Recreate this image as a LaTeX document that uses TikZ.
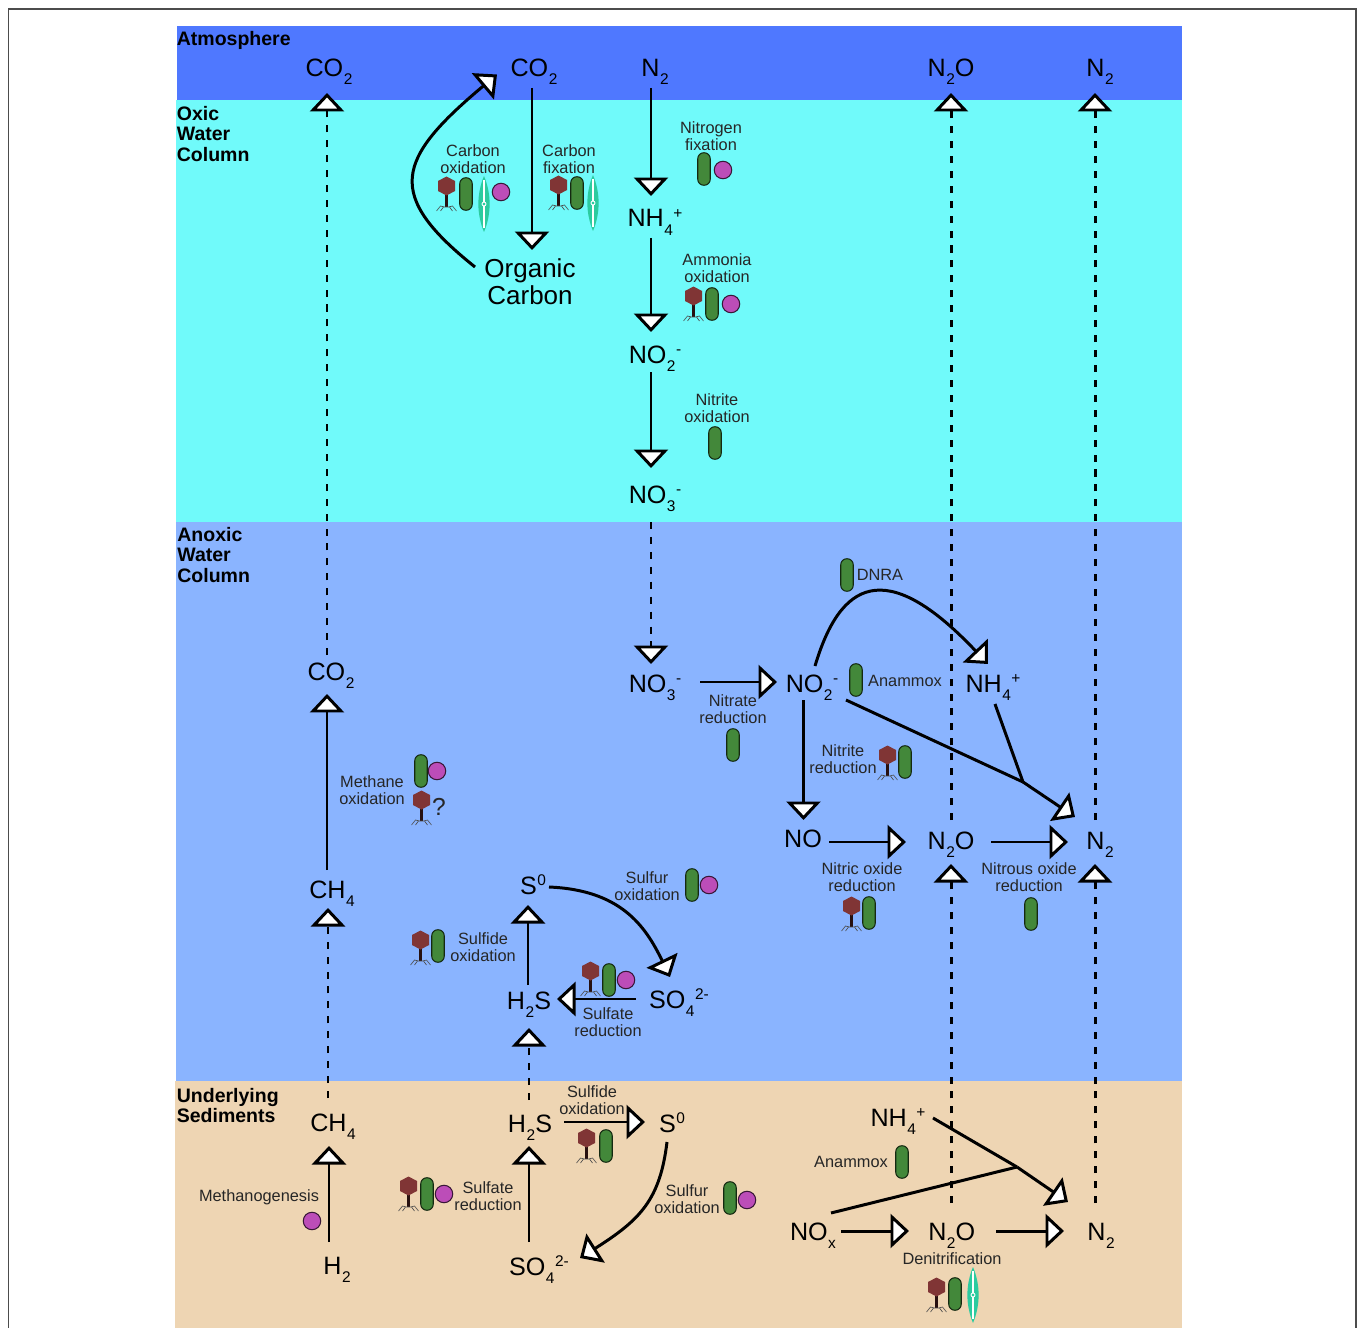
\documentclass[tikz,border=0pt]{standalone}
\usepackage{fontspec}
\setmainfont{Liberation Sans}
\usetikzlibrary{arrows.meta}
\definecolor{Air}{HTML}{4F78FF}
\definecolor{Oxic}{HTML}{70FAFA}
\definecolor{Anoxic}{HTML}{8AB4FF}
\definecolor{Sediment}{HTML}{EED5B3}
\definecolor{Phage}{HTML}{803535}
\definecolor{Bact}{HTML}{43883A}
\definecolor{Arch}{HTML}{BC4DB8}
\definecolor{Diatom}{HTML}{2CCB9F}
\newcommand{\subs}[1]{\raisebox{-4.6pt}{\fontsize{8.8}{9}\selectfont\kern0.3pt#1}}
\newcommand{\sups}[1]{\raisebox{5pt}{\fontsize{8.8}{9}\selectfont\kern0.3pt#1}}

\begin{document}
\begin{tikzpicture}[
  x=0.02cm,y=-0.02cm,
  spec/.style={anchor=base,inner sep=0pt,font=\fontsize{14.3}{15.3}\selectfont,align=center},
  proc/.style={inner sep=0pt,font=\fontsize{9.3}{9.6}\selectfont,align=center,text=black!85},
  zone/.style={anchor=west,inner sep=0pt,font=\fontsize{11.1}{11.6}\selectfont\bfseries,align=left},
  flow/.style={draw=black,line width=1.7pt,-{Triangle[length=0.37cm,width=0.68cm,fill=white]}},
  fluxdash/.style={flow,dash pattern=on 4pt off 4.5pt},
  plain/.style={draw=black,line width=1.7pt},
  bact/.style={rectangle,rounded corners=0.12cm,draw=black!70!Bact,fill=Bact,line width=0.6pt,minimum width=0.25cm,minimum height=0.65cm,inner sep=0pt},
  arch/.style={circle,draw=black!70!Arch,fill=Arch,line width=0.6pt,minimum size=0.35cm,inner sep=0pt},
  phage/.pic={
    \draw[black!70!Phage,line width=1.4pt] (0,9) -- (0,21);
    \draw[black!70,line width=0.35pt] (-10,25) -- (-6,20) -- (-2,21) -- (2,21) -- (6,20) -- (10,25);
    \draw[black!70,line width=0.35pt] (-6,25) -- (-3,21) (6,25) -- (3,21);
    \fill[Phage] (0,-9.5) -- (8.5,-5) -- (8.5,5) -- (0,9.5) -- (-8.5,5) -- (-8.5,-5) -- cycle;
  },
  diatom/.pic={
    \fill[Diatom] (0,-28) .. controls (7.5,-10) and (7.5,10) .. (0,28) .. controls (-7.5,10) and (-7.5,-10) .. cycle;
    \draw[white,line width=0.6pt] (0,-24) -- (0,24);
    \draw[white,fill=Diatom,line width=0.5pt] (0,0) circle (2);
  }
]
\useasboundingbox (0,0) rectangle (1357,1328);
% frame and water layers
\draw[black!70,line width=0.6pt] (8.5,1328) -- (8.5,9) -- (1356,9) -- (1356,1328);
\fill[Air] (176.5,26) rectangle (1182,100);
\fill[Oxic] (176,100) rectangle (1182,522);
\fill[Anoxic] (175.5,522) rectangle (1182,1081);
\fill[Sediment] (175,1081) rectangle (1182,1328);
\node[zone] (zoneair) at (176.5,40) {Atmosphere};
\node[zone] (zoneoxic) at (176.5,134) {Oxic\\Water\\Column};
\node[zone] (zoneanoxic) at (177,555) {Anoxic\\Water\\Column};
\node[zone] (zonesed) at (176.5,1105.5) {Underlying\\Sediments};

% species
\node[spec] (co2top) at (329,76.5) {CO\subs{2}};
\node[spec] (co2air) at (534,76.5) {CO\subs{2}};
\node[spec] (n2air) at (655,76.5) {N\subs{2}};
\node[spec] (n2oair) at (951,76.5) {N\subs{2}O};
\node[spec] (n2top) at (1100,76.5) {N\subs{2}};
\node[spec,anchor=center,font=\fontsize{14.8}{15.3}\selectfont] (orgcarbon) at (530,282) {Organic\\Carbon};
\node[spec] (nh4ox) at (655,227) {NH\subs{4}\sups{+}};
\node[spec] (no2ox) at (655,363.5) {NO\subs{2}\sups{-}};
\node[spec] (no3ox) at (655,503.5) {NO\subs{3}\sups{-}};
\node[spec] (no3an) at (655,692) {NO\subs{3}\sups{-}};
\node[spec] (no2an) at (812,692) {NO\subs{2}\sups{-}};
\node[spec] (nh4an) at (993,692) {NH\subs{4}\sups{+}};
\node[spec] (co2an) at (331,680) {CO\subs{2}};
\node[spec] (ch4an) at (332,898) {CH\subs{4}};
\node[spec] (nogas) at (803,847.5) {NO};
\node[spec] (n2oan) at (951,849) {N\subs{2}O};
\node[spec] (n2an) at (1100,849) {N\subs{2}};
\node[spec] (s0an) at (533,894.5) {S\sups{0}};
\node[spec] (h2san) at (529,1009.5) {H\subs{2}S};
\node[spec] (so4an) at (679,1008) {SO\subs{4}\sups{2-}};
\node[spec] (ch4sed) at (333,1131.5) {CH\subs{4}};
\node[spec] (h2sed) at (337,1274.5) {H\subs{2}};
\node[spec] (h2ssed) at (530,1132.5) {H\subs{2}S};
\node[spec] (s0sed) at (672,1132.5) {S\sups{0}};
\node[spec] (so4sed) at (539,1275) {SO\subs{4}\sups{2-}};
\node[spec] (nh4sed) at (898,1126.5) {NH\subs{4}\sups{+}};
\node[spec] (noxsed) at (813,1240) {NO\subs{x}};
\node[spec] (n2osed) at (951.7,1240) {N\subs{2}O};
\node[spec] (n2sed) at (1101,1240) {N\subs{2}};
\coordinate (janox) at (1023,782);
\coordinate (jansed) at (1017,1167);

% processes
\node[proc] (pcox) at (473,159) {Carbon\\oxidation};
\node[proc] (pcfix) at (569,159) {Carbon\\fixation};
\node[proc] (pnfix) at (711,136) {Nitrogen\\fixation};
\node[proc] (pamox) at (717,268) {Ammonia\\oxidation};
\node[proc] (pnox) at (717,408) {Nitrite\\oxidation};
\node[proc] (pnar) at (733,709) {Nitrate\\reduction};
\node[proc] (pdnra) at (880,575) {DNRA};
\node[proc] (panxa) at (905,681) {Anammox};
\node[proc] (pnir) at (843,759) {Nitrite\\reduction};
\node[proc] (pnor) at (862,877) {Nitric oxide\\reduction};
\node[proc] (pnos) at (1029,877) {Nitrous oxide\\reduction};
\node[proc] (pmox) at (372,790) {Methane\\oxidation};
\node[proc,font=\fontsize{14}{15}\selectfont] (pquery) at (439,807) {?};
\node[proc] (psoxa) at (647,886) {Sulfur\\oxidation};
\node[proc] (psdoxa) at (483,947) {Sulfide\\oxidation};
\node[proc] (psra) at (608,1022) {Sulfate\\reduction};
\node[proc] (psdoxs) at (592,1100) {Sulfide\\oxidation};
\node[proc] (pmeth) at (259,1197) {Methanogenesis};
\node[proc] (psrs) at (488,1196) {Sulfate\\reduction};
\node[proc] (psoxs) at (687,1199) {Sulfur\\oxidation};
\node[proc] (panxs) at (851,1162) {Anammox};
\node[proc] (pdenit) at (952,1258.5) {Denitrification};

% organisms
\pic at (446.5,186) {phage};
\pic at (558.5,185) {phage};
\pic at (693.5,296) {phage};
\pic at (887.5,755) {phage};
\pic at (851.5,906) {phage};
\pic at (421.5,800) {phage};
\pic at (590.5,971) {phage};
\pic at (420.5,940) {phage};
\pic at (586.5,1138) {phage};
\pic at (408.5,1186) {phage};
\pic at (936.5,1287) {phage};
\node[bact] (ba1) at (466,194) {};
\node[bact] (ba2) at (577,193) {};
\node[bact] (ba3) at (704,169) {};
\node[bact] (ba4) at (712,304) {};
\node[bact] (ba5) at (715,443) {};
\node[bact] (ba6) at (847,575) {};
\node[bact] (ba7) at (856,680) {};
\node[bact] (ba8) at (733,745) {};
\node[bact] (ba9) at (905,762) {};
\node[bact] (ba10) at (869,913) {};
\node[bact] (ba11) at (1031,914) {};
\node[bact] (ba12) at (421,771) {};
\node[bact] (ba13) at (692,885) {};
\node[bact] (ba14) at (438,946) {};
\node[bact] (ba15) at (609,980) {};
\node[bact] (ba16) at (606,1146) {};
\node[bact] (ba17) at (427,1194) {};
\node[bact] (ba18) at (730,1198) {};
\node[bact] (ba19) at (902,1162) {};
\node[bact] (ba20) at (955,1294) {};
\node[arch] (ar1) at (501,192) {};
\node[arch] (ar2) at (723,170) {};
\node[arch] (ar3) at (731,304) {};
\node[arch] (ar4) at (437,771) {};
\node[arch] (ar5) at (709,885) {};
\node[arch] (ar6) at (626,980) {};
\node[arch] (ar7) at (444,1194) {};
\node[arch] (ar8) at (747,1200) {};
\node[arch] (ar9) at (312,1221) {};
\pic at (484,204) {diatom};
\pic at (593,203) {diatom};
\pic at (973,1295) {diatom};

% carbon and methane
\draw[fluxdash] ([shift={(-4,-25)}]co2an.base) -- ([shift={(-2,16.5)}]co2top.base);
\draw[flow] ([shift={(-5,-28)}]ch4an.base) -- ([shift={(-4,14)}]co2an.base);
\draw[fluxdash] ([shift={(-5,-33.5)}]ch4sed.base) -- ([shift={(-4,10)}]ch4an.base);
\draw[flow] ([shift={(-8,-32.5)}]h2sed.base) -- ([shift={(-4,14.5)}]ch4sed.base);
\draw[flow] ([shift={(-55,-15)}]orgcarbon.center) .. controls (385,195) and (395,160) .. ([shift={(-37,-2)}]co2air.base);
\draw[flow] ([shift={(-2,11.5)}]co2air.base) -- ([shift={(2,-32)}]orgcarbon.center);

% nitrogen
\draw[flow] ([shift={(-4,11.5)}]n2air.base) -- ([shift={(-4,-31)}]nh4ox.base);
\draw[flow] ([shift={(-4,11)}]nh4ox.base) -- ([shift={(-4,-31.5)}]no2ox.base);
\draw[flow] ([shift={(-4,8.5)}]no2ox.base) -- ([shift={(-4,-35.5)}]no3ox.base);
\draw[fluxdash] ([shift={(-4,18.5)}]no3ox.base) -- ([shift={(-4,-28)}]no3an.base);
\draw[flow] ([shift={(45,-10)}]no3an.base) -- ([shift={(-35,-10)}]no2an.base);
\draw[flow] ([shift={(3,-26)}]no2an.base) .. controls (840,582) and (885,555) .. ([shift={(-5,-28)}]nh4an.base);
\draw[plain] ([shift={(34,8)}]no2an.base) -- (janox);
\draw[plain] ([shift={(2,12)}]nh4an.base) -- (janox);
\draw[flow] (janox) -- ([shift={(-25,-32)}]n2an.base);
\draw[flow] ([shift={(-8.5,8)}]no2an.base) -- ([shift={(0.5,-27.5)}]nogas.base);
\draw[flow] ([shift={(26,-5.5)}]nogas.base) -- ([shift={(-45,-7)}]n2oan.base);
\draw[flow] ([shift={(40,-7)}]n2oan.base) -- ([shift={(-32,-7)}]n2an.base);
\draw[fluxdash] ([shift={(0,-29)}]n2oan.base) -- ([shift={(0,16.5)}]n2oair.base);
\draw[fluxdash] ([shift={(-5,-29)}]n2an.base) -- ([shift={(-5,16.5)}]n2top.base);
\draw[fluxdash] ([shift={(-0.7,-37)}]n2osed.base) -- ([shift={(0,15)}]n2oan.base);
\draw[fluxdash] ([shift={(-6,-37)}]n2sed.base) -- ([shift={(-5,15)}]n2an.base);
\draw[flow] ([shift={(28,-9)}]noxsed.base) -- ([shift={(-42.7,-9)}]n2osed.base);
\draw[flow] ([shift={(44.3,-9)}]n2osed.base) -- ([shift={(-37,-9)}]n2sed.base);
\draw[plain] ([shift={(35,-8.5)}]nh4sed.base) -- (jansed);
\draw[plain] ([shift={(18,-27)}]noxsed.base) -- (jansed);
\draw[flow] (jansed) -- ([shift={(-33,-38)}]n2sed.base);

% sulfur
\draw[flow] ([shift={(-1,-24.5)}]h2san.base) -- ([shift={(-5,10.5)}]s0an.base);
\draw[flow] ([shift={(16,-7.5)}]s0an.base) .. controls (620,890) and (645,925) .. ([shift={(-9,-31)}]so4an.base);
\draw[flow] ([shift={(-43,-9)}]so4an.base) -- ([shift={(28,-10.5)}]h2san.base);
\draw[fluxdash] ([shift={(-1,-32.5)}]h2ssed.base) -- ([shift={(0,18.5)}]h2san.base);
\draw[flow] ([shift={(34,-10.5)}]h2ssed.base) -- ([shift={(-27,-10.5)}]s0sed.base);
\draw[flow] ([shift={(-10,-33)}]so4sed.base) -- ([shift={(-1,13.5)}]h2ssed.base);
\draw[flow] ([shift={(-5,9.5)}]s0sed.base) .. controls (660,1200) and (640,1220) .. ([shift={(41,-17)}]so4sed.base);
\end{tikzpicture}
\end{document}
